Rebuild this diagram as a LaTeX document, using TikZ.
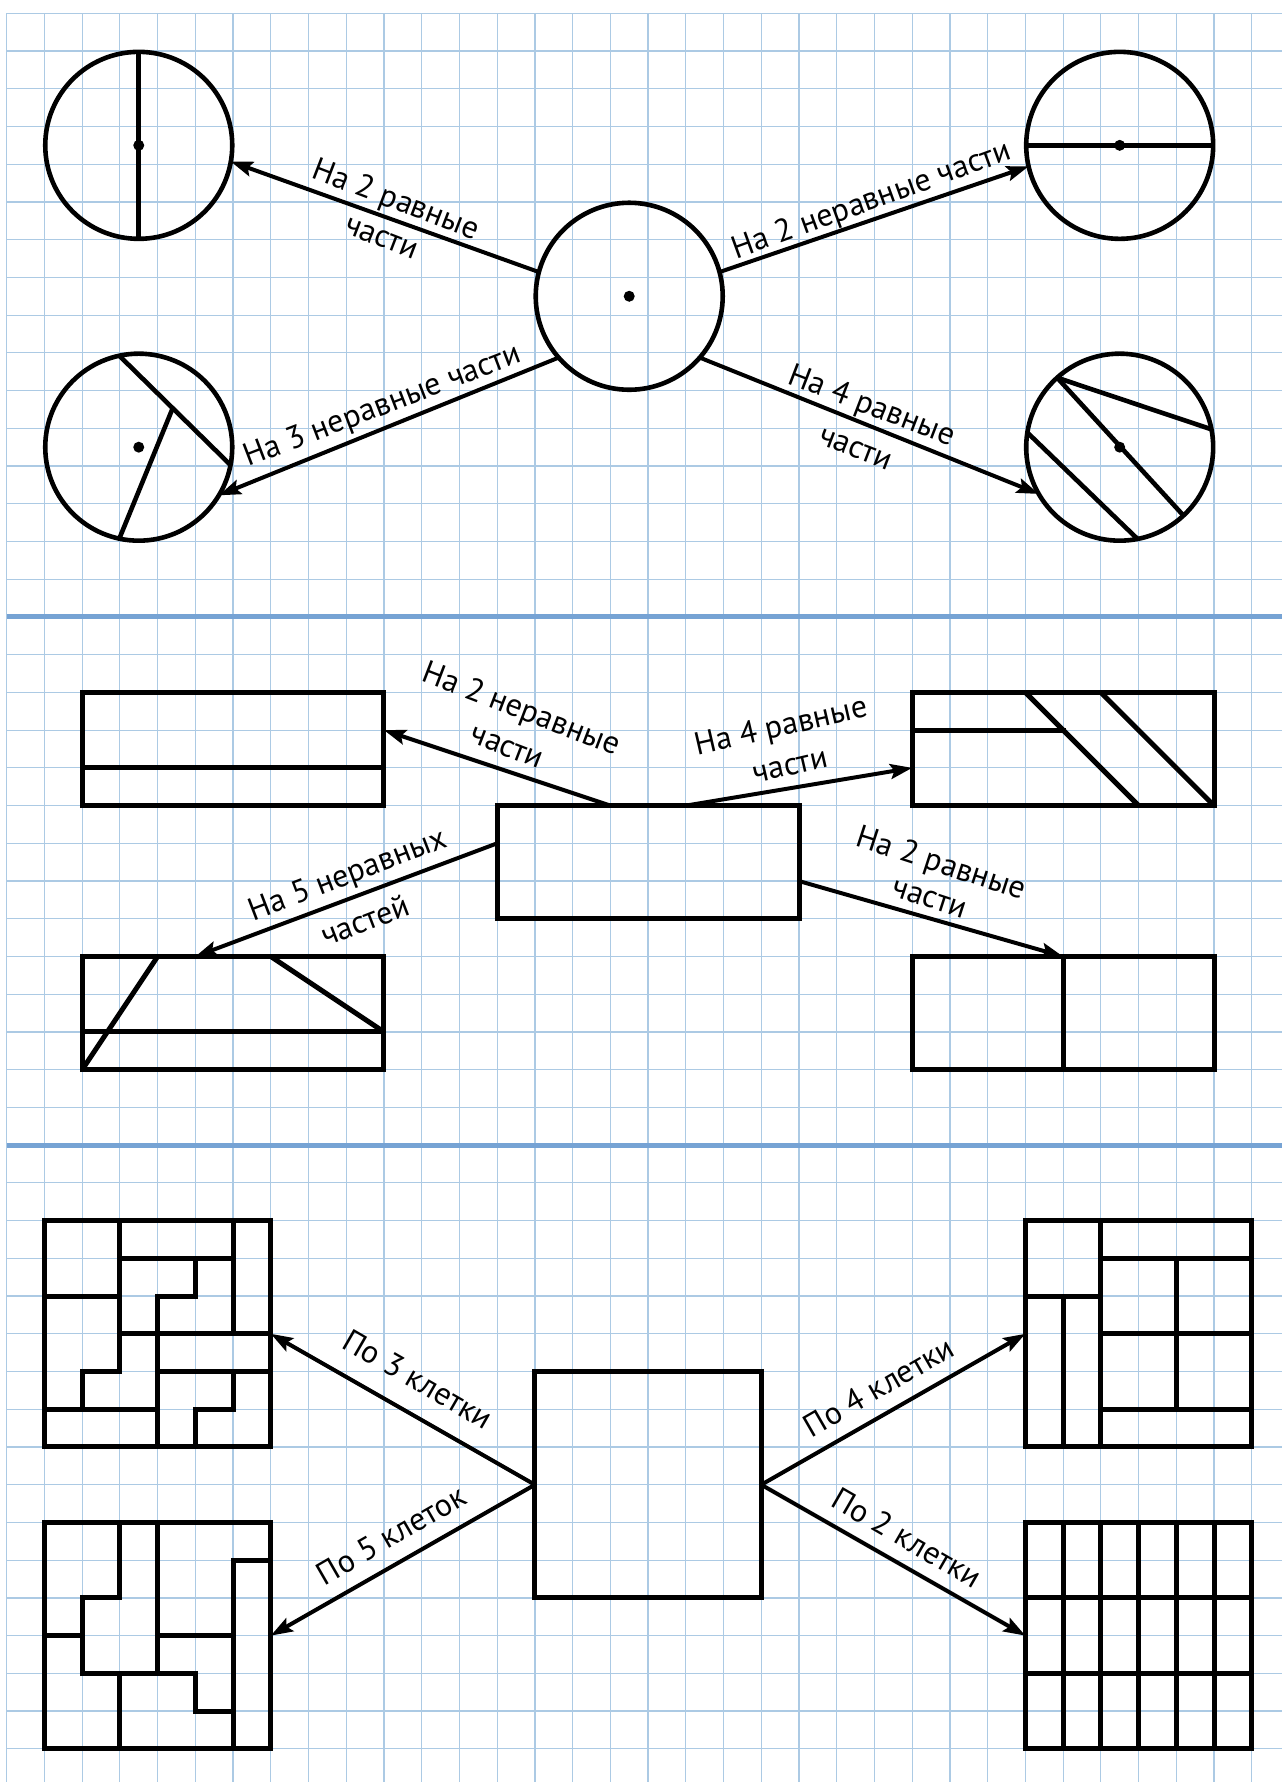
\documentclass[tikz,border=0pt]{standalone}
\usepackage{fontspec}
\setmainfont{PT Sans}
\usetikzlibrary{arrows.meta,calc}
\definecolor{gridc}{RGB}{172,202,228}
\definecolor{divc}{RGB}{118,163,212}
\begin{document}
\begin{tikzpicture}[x=37.73pt,y=-37.73pt,
  shp/.style={line width=5pt, line cap=rect, line join=miter},
  chord/.style={line width=4.6pt, line cap=butt},
  conn/.style={line width=4pt, -{Stealth[length=22pt,width=15pt,inset=4pt]}},
  circ/.style={circle, draw, line width=4.6pt, minimum size=187pt, inner sep=0pt, outer sep=0pt},
  lbl/.style={font=\fontsize{32}{40}\selectfont, align=center, inner sep=0pt},
  dotn/.style={fill, circle, minimum size=11pt, inner sep=0pt}
]
\useasboundingbox[fill=white] (-0.1776,-0.3525) rectangle (33.80,46.88);
% paper grid
\foreach \i in {0,...,33} \draw[gridc, line width=1.2pt] (\i,0) -- (\i,46.88);
\foreach \j in {0,...,46} \draw[gridc, line width=1.2pt] (0,\j) -- (33.80,\j);
\draw[divc, line width=5pt] (0,16) -- (33.80,16);
\draw[divc, line width=5pt] (0,30) -- (33.80,30);

% ---------- circles ----------
\node[circ] (tl) at (3.5,3.5) {};
\node[circ] (cc) at (16.5,7.5) {};
\node[circ] (tr) at (29.5,3.5) {};
\node[circ] (bl) at (3.5,11.5) {};
\node[circ] (br) at (29.5,11.5) {};
\node[dotn] (tld) at (tl.center) {};
\node[dotn] (ccd) at (cc.center) {};
\node[dotn] (trd) at (tr.center) {};
\node[dotn] (bld) at (bl.center) {};
\node[dotn] (brd) at (br.center) {};
\draw[chord] (tl.north) -- (tl.south);
\draw[chord] (tr.west) -- (tr.east);
\draw[chord] (bl.102.4) -- (bl.-11);
\draw[chord] (bl.-102.8) -- ($(bl.102.4)!0.48!(bl.-11)$);
\draw[chord] (br.132.8) -- (br.11.6);
\draw[chord] (br.132.8) -- (br.-47.2);
\draw[chord] (br.171.1) -- (br.-79.2);

\draw[conn] (cc.165.9) -- (tl.-10.4);
\draw[conn] (cc.15.8) -- (tr.193.9);
\draw[conn] (cc.221.9) -- (bl.-31.1);
\draw[conn] (cc.-41.7) -- (br.210.6);

\node[lbl, rotate=-21] (l1) at (10.15,5.40) {На 2 равные\\части};
\node[lbl, rotate=20] (l2) at (22.93,4.98) {На 2 неравные части};
\node[lbl, rotate=21] (l3) at (9.97,10.43) {На 3 неравные части};
\node[lbl, rotate=-21] (l4) at (22.74,10.92) {На 4 равные\\[5pt]части};

% ---------- rectangles ----------
\draw[shp] (2,18) rectangle (10,21);
\draw[shp] (2,20) -- (10,20);
\draw[shp] (13,21) rectangle (21,24);
\draw[shp] (24,18) rectangle (32,21);
\draw[shp] (24,19) -- (28,19);
\draw[chord,line width=5pt] (27,18) -- (30,21);
\draw[chord,line width=5pt] (29,18) -- (32,21);
\draw[shp] (2,25) rectangle (10,28);
\draw[shp] (2,27) -- (10,27);
\draw[chord,line width=5pt] (2,28) -- (4,25);
\draw[chord,line width=5pt] (7,25) -- (10,27);
\draw[shp] (24,25) rectangle (32,28);
\draw[shp] (28,25) -- (28,28);

\coordinate (ma) at (16,21);
\coordinate (mb) at (18,21);
\coordinate (mc) at (13,22);
\coordinate (md) at (21,23);
\coordinate (ta) at (10,19);
\coordinate (tb) at (24,20);
\coordinate (tc) at (5,25);
\coordinate (td) at (28,25);
\draw[conn] (ma) -- (ta);
\draw[conn] (mb) -- (tb);
\draw[conn] (mc) -- (tc);
\draw[conn] (md) -- (td);

\node[lbl, rotate=-21] (l5) at (13.47,18.90) {На 2 неравные\\части};
\node[lbl, rotate=13] (l6) at (20.64,19.38) {На 4 равные\\части};
\node[lbl, rotate=21] (l7) at (9.26,23.42) {На 5 неравных\\[10pt]частей};
\node[lbl, rotate=-18] (l8) at (24.63,22.95) {На 2 равные\\[-4pt]части};

% ---------- squares ----------
\draw[shp] (14,36) rectangle (20,42);
% top-left
\draw[shp] (1,32) rectangle (7,38);
\draw[shp] (3,32)--(3,36) (1,34)--(3,34) (3,33)--(6,33) (6,32)--(6,35)
  (5,33)--(5,34) (4,34)--(5,34) (4,34)--(4,38) (3,35)--(7,35) (4,36)--(7,36)
  (2,36)--(3,36) (2,36)--(2,37) (1,37)--(4,37) (6,36)--(6,37) (5,37)--(6,37)
  (5,37)--(5,38);
% bottom-left
\draw[shp] (1,40) rectangle (7,46);
\draw[shp] (3,40)--(3,42) (2,42)--(3,42) (2,42)--(2,44) (1,43)--(2,43)
  (4,40)--(4,44) (2,44)--(5,44) (5,44)--(5,45) (5,45)--(6,45) (6,41)--(6,46)
  (6,41)--(7,41) (4,43)--(6,43) (3,44)--(3,46);
% top-right
\draw[shp] (27,32) rectangle (33,38);
\draw[shp] (29,32)--(29,38) (27,34)--(29,34) (28,34)--(28,38) (29,33)--(33,33)
  (31,33)--(31,37) (29,35)--(33,35) (29,37)--(33,37);
% bottom-right
\draw[shp] (27,40) rectangle (33,46);
\draw[shp] (28,40)--(28,46) (29,40)--(29,46) (30,40)--(30,46) (31,40)--(31,46)
  (32,40)--(32,46) (27,42)--(33,42) (27,44)--(33,44);

\coordinate (sl) at (14,39);
\coordinate (sr) at (20,39);
\coordinate (s1) at (7,35);
\coordinate (s2) at (7,43);
\coordinate (s3) at (27,35);
\coordinate (s4) at (27,43);
\draw[conn] (sl) -- (s1);
\draw[conn] (sl) -- (s2);
\draw[conn] (sr) -- (s3);
\draw[conn] (sr) -- (s4);

\node[lbl, rotate=-30] (l9) at (10.91,36.21) {По 3 клетки};
\node[lbl, rotate=30] (l10) at (10.19,40.34) {По 5 клеток};
\node[lbl, rotate=30] (l11) at (23.11,36.40) {По 4 клетки};
\node[lbl, rotate=-30] (l12) at (23.86,40.40) {По 2 клетки};
\end{tikzpicture}
\end{document}
